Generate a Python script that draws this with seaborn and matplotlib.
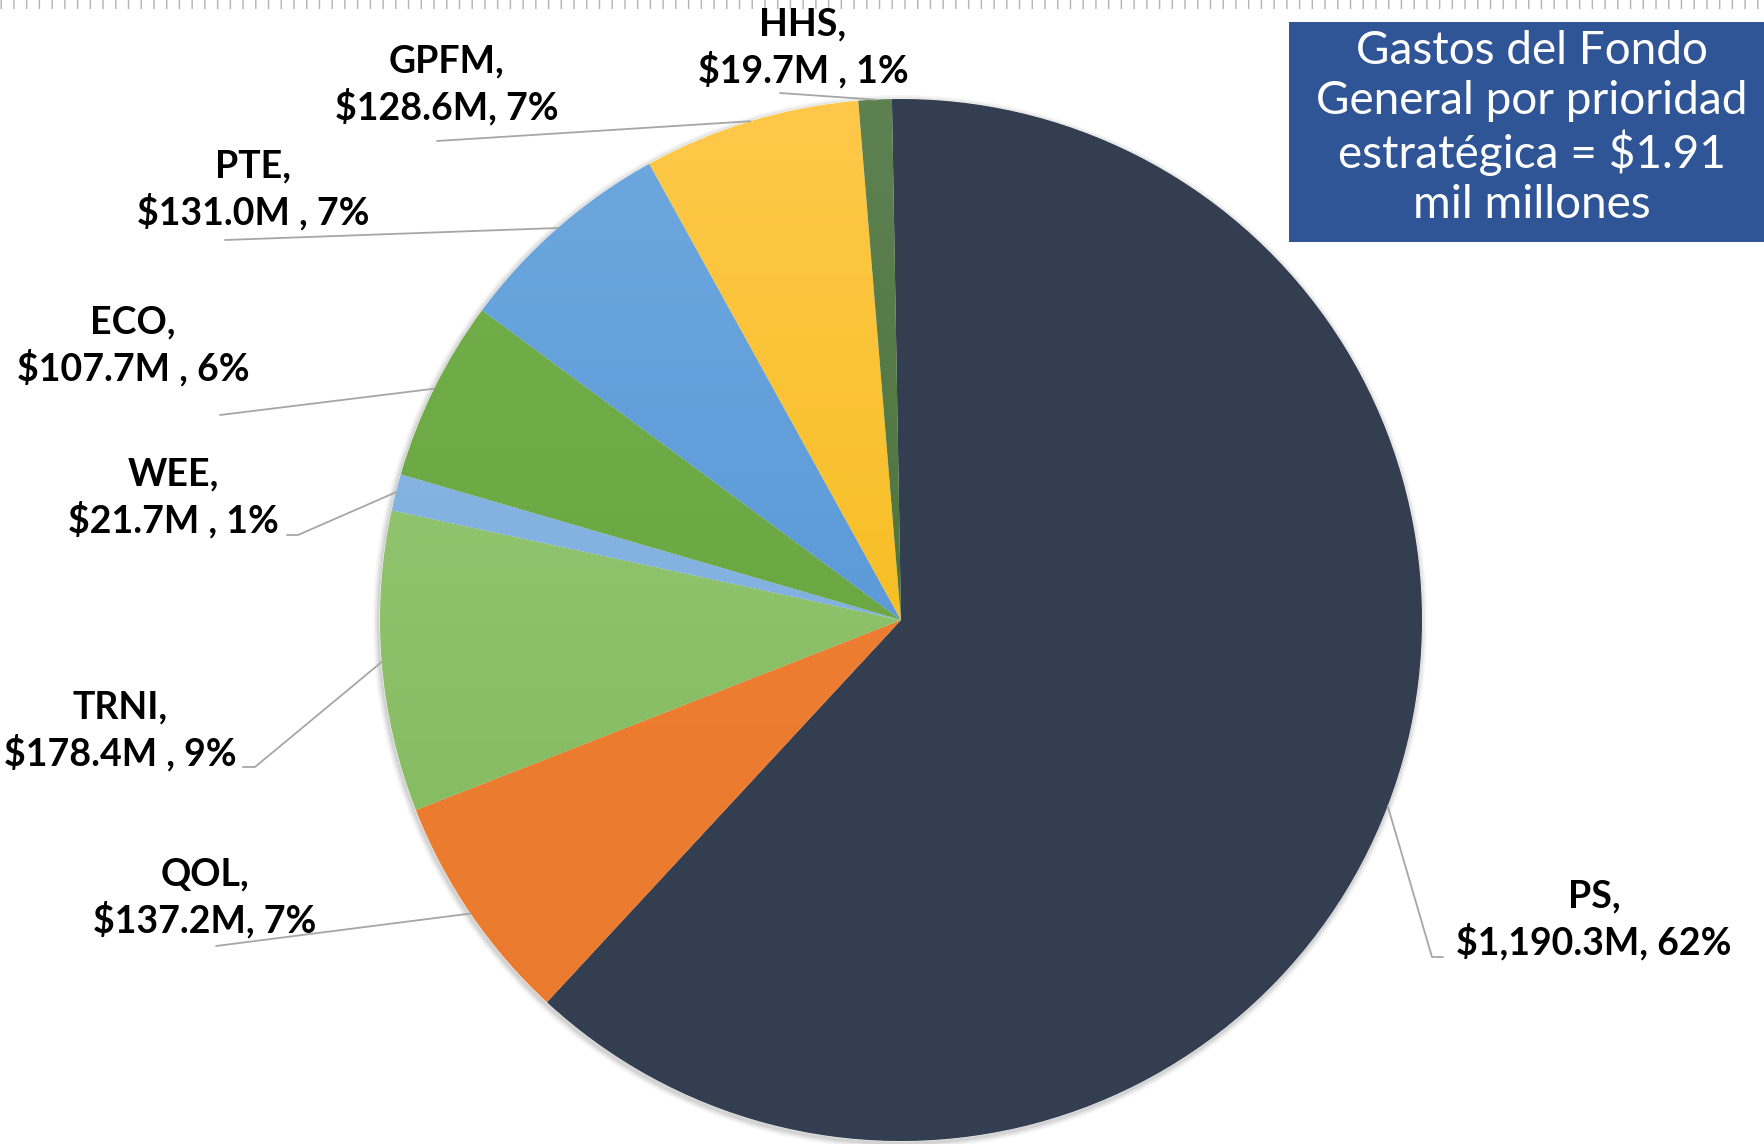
import numpy as np
import matplotlib.pyplot as plt
import seaborn as sns
from matplotlib.patches import Rectangle, Circle
from matplotlib.colors import LinearSegmentedColormap

sns.set_theme(style="white")
plt.rcParams["font.family"] = ["Lato", "DejaVu Sans"]

# datos
categories = ["PS", "QOL", "TRNI", "WEE", "ECO", "PTE", "GPFM", "HHS"]
values = [1190.3, 137.2, 178.4, 21.7, 107.7, 131.0, 128.6, 19.7]
separators = [", ", ", ", " , ", " , ", " , ", " , ", ", ", " , "]
title_text = "Gastos del Fondo\nGeneral por prioridad\nestratégica = $1.91\nmil millones"

# colores (arriba, abajo) para el degradado
top_colors = ["#333F50", "#EE7F33", "#9CCB7B", "#8BB8E4", "#74B04B", "#6EA8DE", "#FFC84A", "#5E8152"]
bottom_colors = ["#333F50", "#EA7A2E", "#7CB657", "#7AAADC", "#62A03B", "#4A8DD3", "#EEB600", "#3E6A2A"]

W, H = 1765, 1144
CX, CY, R = 901, 620, 521

# posiciones de etiquetas (px desde arriba) y arranque de las guias
label_xy = [(1594, 920), (205, 898), (120, 731), (173, 498), (133, 346), (253, 190), (447, 85), (803, 48)]
leader_start = [(1443, 957), (216, 946), (243, 767), (287, 535), (220, 415), (225, 240), (437, 141), (780, 93)]
leader_knee = [(1432, 957), (216, 946), (255, 767), (298, 535), (220, 415), (225, 240), (437, 141), (780, 93)]


def fy(y):
    return H - y


fig = plt.figure(figsize=(W / 100, H / 100), dpi=100)
ax = fig.add_axes([0, 0, 1, 1])

# sombra suave del pastel
for k, a in zip([6, 4, 2], [0.04, 0.06, 0.08]):
    ax.add_patch(Circle((CX - 1, fy(CY) - 2), R + k, facecolor="black", edgecolor="none", alpha=a, zorder=0.5))

wedges, _ = ax.pie(values, startangle=91, counterclock=False, radius=R, center=(CX, fy(CY)),
                   colors=top_colors, wedgeprops=dict(linewidth=0.6, edgecolor="white"))

# degradado vertical dentro de cada sector
for w, c1, c2 in zip(wedges, top_colors, bottom_colors):
    cmap = LinearSegmentedColormap.from_list("g", [c2, c1])
    grad = np.linspace(0, 1, 256).reshape(-1, 1)
    im = ax.imshow(grad, cmap=cmap, origin="lower", aspect="auto",
                   extent=(CX - R, CX + R, fy(CY) - R, fy(CY) + R), zorder=1.5)
    im.set_clip_path(w)

ax.set_xlim(0, W)
ax.set_ylim(0, H)
ax.set_aspect("equal")
ax.axis("off")

total = sum(values)
for i, (cat, v) in enumerate(zip(categories, values)):
    pct = round(v / total * 100)
    txt = f"{cat},\n${v:,.1f}M{separators[i]}{pct}%"
    lx, ly = label_xy[i]
    ax.text(lx, fy(ly), txt, ha="center", va="center", fontsize=27, fontweight="bold",
            color="black", linespacing=1.3, zorder=5)
    # guia hasta el borde del sector
    w = wedges[i]
    mid = np.deg2rad((w.theta1 + w.theta2) / 2)
    ex, ey = CX + R * np.cos(mid), fy(CY) + R * np.sin(mid)
    sx, sy = leader_start[i]
    kx, ky = leader_knee[i]
    ax.plot([sx, kx, ex], [fy(sy), fy(ky), ey], color="#A6A6A6", lw=1.3, zorder=4)

# cuadro de titulo
ax.add_patch(Rectangle((1289, fy(242)), W - 1289, 220, facecolor="#2F5597", edgecolor="none", zorder=3))
ax.text(1532, fy(128), title_text, ha="center", va="center", fontsize=33, color="white",
        fontweight="normal", linespacing=1.22, zorder=4)

# linea decorativa superior
ax.plot([0, W], [fy(4), fy(4)], color="#B5B5B5", lw=6.5, dashes=(0.16, 1.25), solid_capstyle="butt",
        dash_capstyle="butt", zorder=2)

fig.savefig("out.png", dpi=100)
